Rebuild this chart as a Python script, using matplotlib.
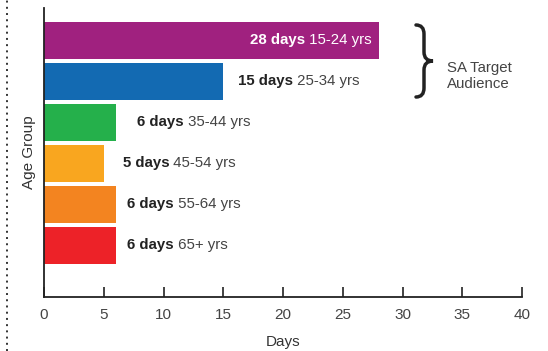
import matplotlib.pyplot as plt
from matplotlib.path import Path
from matplotlib.patches import PathPatch
from matplotlib.lines import Line2D

plt.rcParams['font.family'] = ['Liberation Sans', 'DejaVu Sans']

# data
age_groups = ["15-24 yrs", "25-34 yrs", "35-44 yrs", "45-54 yrs", "55-64 yrs", "65+ yrs"]
days = [28, 15, 6, 5, 6, 6]
colors = ["#A0217F", "#136AB2", "#25B04B", "#F9A61F", "#F38420", "#ED2228"]
label_x = [27.4, 16.2, 7.8, 6.6, 6.95, 6.95]

W, H = 548, 351
fig = plt.figure(figsize=(W / 100, H / 100), dpi=100)
ax = fig.add_axes([44 / W, 1 - 297 / H, 478 / W, 289 / H])

pos = list(range(len(days)))
ax.barh(pos, days, height=0.9, color=colors)
ax.set_ylim(6.26, -0.79)
ax.set_xlim(0, 40)
ax.set_xticks(range(0, 41, 5))
ax.set_yticks([])

for s in ["top", "right"]:
    ax.spines[s].set_visible(False)
for s in ["left", "bottom"]:
    ax.spines[s].set_color("#222222")
    ax.spines[s].set_linewidth(1.3)
ax.tick_params(axis="x", direction="in", length=7, width=1.2, color="#222222",
               labelsize=11, labelcolor="#444444", pad=8)

ax.set_xlabel("Days", fontsize=11, color="#333333", labelpad=9)
ax.set_ylabel("Age Group", fontsize=11, color="#333333", labelpad=6)

# bar labels
fs = 10.8
for i, (d, a, lx) in enumerate(zip(days, age_groups, label_x)):
    if i == 0:
        reg = ax.text(lx, i, " " + a, ha="right", va="center", fontsize=fs, color="white")
        ax.annotate(f"{d} days", xy=(0, 0), xycoords=reg, ha="right", va="bottom",
                    fontsize=fs, fontweight="bold", color="white")
    else:
        b = ax.text(lx, i, f"{d} days", ha="left", va="center", fontsize=fs,
                    fontweight="bold", color="#222222")
        ax.annotate(" " + a, xy=(1, 0), xycoords=b, ha="left", va="bottom",
                    fontsize=fs, color="#444444")

# brace
def px(x, y):
    return (x / W, 1 - y / H)

xl, xm, xt = 416, 424, 433
y0, ym, y1 = 25, 61, 97
verts = [px(xl, y0), px(xm, y0), px(xm, y0 + 9),
         px(xm, ym - 9),
         px(xm, ym), px(xt, ym),
         px(xm, ym), px(xm, ym + 9),
         px(xm, y1 - 9),
         px(xm, y1), px(xl, y1)]
codes = [Path.MOVETO, Path.CURVE3, Path.CURVE3,
         Path.LINETO,
         Path.CURVE3, Path.CURVE3,
         Path.CURVE3, Path.CURVE3,
         Path.LINETO,
         Path.CURVE3, Path.CURVE3]
fig.patches.append(PathPatch(Path(verts, codes), transform=fig.transFigure,
                             fill=False, lw=2.5, edgecolor="#222222", capstyle="round"))
fig.text(447 / W, 1 - 76 / H, "SA Target\nAudience", ha="left", va="center",
         fontsize=10.8, color="#444444", linespacing=1.1)

# dotted line at left edge
fig.add_artist(Line2D([7 / W, 7 / W], [0, 1], transform=fig.transFigure,
                      color="#333333", lw=1.4, linestyle=(0, (1, 2.2))))

fig.savefig("out.png", dpi=100)
